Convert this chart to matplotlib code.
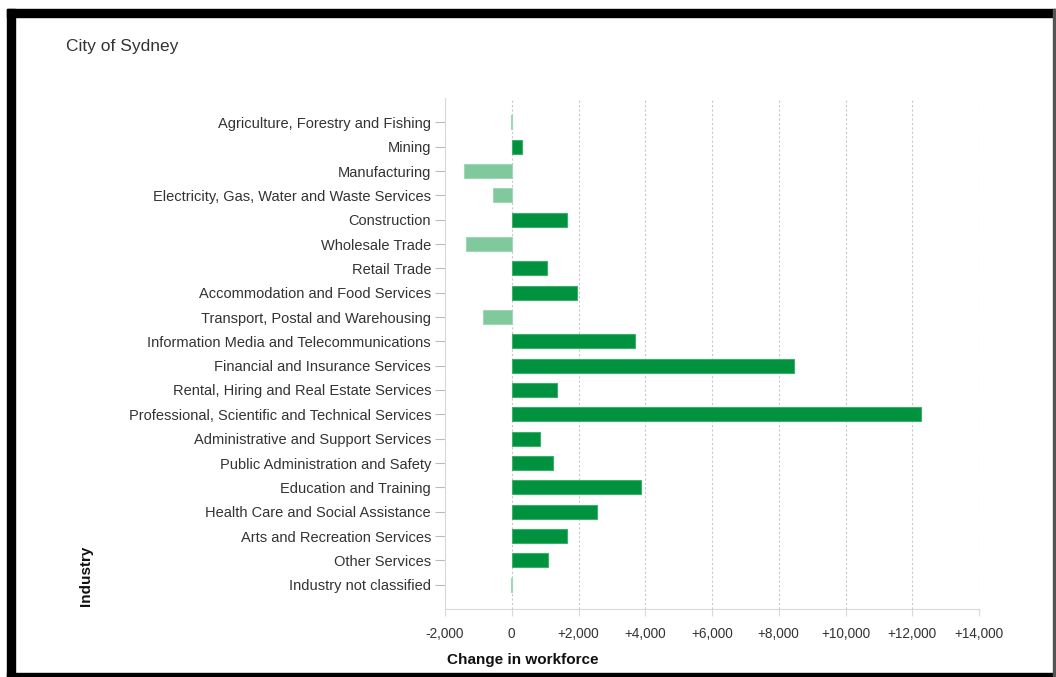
import matplotlib.pyplot as plt
from matplotlib.patches import Rectangle
from matplotlib.ticker import FuncFormatter

plt.rcParams['font.family'] = ['Liberation Sans', 'DejaVu Sans']

# industries, top to bottom
industries = [
    "Agriculture, Forestry and Fishing",
    "Mining",
    "Manufacturing",
    "Electricity, Gas, Water and Waste Services",
    "Construction",
    "Wholesale Trade",
    "Retail Trade",
    "Accommodation and Food Services",
    "Transport, Postal and Warehousing",
    "Information Media and Telecommunications",
    "Financial and Insurance Services",
    "Rental, Hiring and Real Estate Services",
    "Professional, Scientific and Technical Services",
    "Administrative and Support Services",
    "Public Administration and Safety",
    "Education and Training",
    "Health Care and Social Assistance",
    "Arts and Recreation Services",
    "Other Services",
    "Industry not classified",
]
# change in workforce
change = [-15, 320, -1420, -570, 1670, -1380, 1045, 1970, -860, 3680,
          8450, 1350, 12270, 840, 1230, 3880, 2555, 1660, 1080, -20]

x_ticks = [-2000, 0, 2000, 4000, 6000, 8000, 10000, 12000, 14000]

dark = "#00923f"
light = "#80c99c"

fig = plt.figure(figsize=(10.56, 6.77), dpi=100)
ax = fig.add_axes([445 / 1056, 1 - 609 / 677, 534 / 1056, 511 / 677])

cols = [dark if v > 0 else light for v in change]
edges = ["#3cb06a" if v > 0 else "#9fd8b4" for v in change]
ax.barh(range(len(industries)), change, height=0.58, color=cols,
        edgecolor=edges, linewidth=0.8, zorder=3)

ax.set_ylim(len(industries), -1)
ax.set_xlim(-2000, 14000)
ax.set_yticks(range(len(industries)))
ax.set_yticklabels(industries)
ax.set_xticks(x_ticks)
ax.xaxis.set_major_formatter(FuncFormatter(
    lambda v, p: "0" if v == 0 else ("+" if v > 0 else "-") + f"{abs(int(v)):,}"))

ax.grid(axis="x", color="#c8c8c8", linestyle=(0, (2, 2)), linewidth=0.8, zorder=0)
for s in ["top", "right"]:
    ax.spines[s].set_visible(False)
for s in ["left", "bottom"]:
    ax.spines[s].set_color("#d9d9d9")
ax.tick_params(axis="y", length=7, color="#bbbbbb", labelsize=10.5,
               labelcolor="#333333", pad=3)
ax.tick_params(axis="x", length=5, color="#d9d9d9", labelsize=9.8,
               labelcolor="#333333", pad=8)
for t in ax.yaxis.get_ticklines():
    t.set_linestyle((0, (2, 1.5)))

fig.text(66 / 1056, 1 - 47 / 677, "City of Sydney", fontsize=12.5,
         color="#333333", va="center", ha="left")
fig.text(86 / 1056, 1 - 576 / 677, "Industry", fontsize=11, fontweight="bold",
         rotation=90, va="center", ha="center", color="#111111")
fig.text(523 / 1056, 1 - 660 / 677, "Change in workforce", fontsize=11,
         fontweight="bold", va="center", ha="center", color="#111111")

# black frame of the screenshot
fig.patches.append(Rectangle((7 / 1056, 0), 8 / 1056, 1 - 9 / 677,
                             transform=fig.transFigure, color="black"))
fig.patches.append(Rectangle((7 / 1056, 1 - 17 / 677), 1, 8 / 677,
                             transform=fig.transFigure, color="black"))
fig.patches.append(Rectangle((7 / 1056, 0), 1, 4 / 677,
                             transform=fig.transFigure, color="black"))
fig.patches.append(Rectangle((1053 / 1056, 0), 1.5 / 1056, 1 - 9 / 677,
                             transform=fig.transFigure, color="#555555"))

fig.savefig("out.png", dpi=100)
